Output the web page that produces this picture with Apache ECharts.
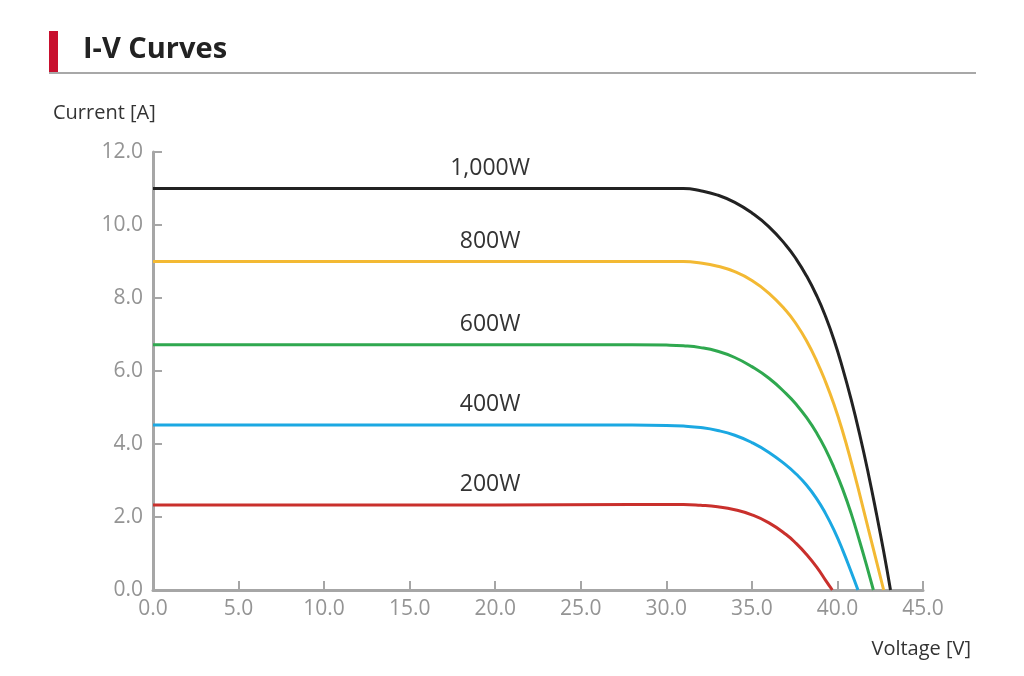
<!DOCTYPE html>
<html>
<head>
<meta charset="utf-8">
<script src="https://cdn.jsdelivr.net/npm/echarts@6/dist/echarts.min.js"></script>
<style>
  html, body { margin: 0; padding: 0; background: #fff; }
  #chart { width: 1024px; height: 676px; }
</style>
</head>
<body>
<div id="chart"></div>
<script>
// Irradiance labels
const curveNames = ['1,000W', '800W', '600W', '400W', '200W'];

// Voltage [V] / Current [A] points
const v1000 = [0, 10, 20, 28, 31, 32, 33, 34, 35, 36, 37, 37.6, 38.2, 38.8, 39.3, 39.8, 40.3, 40.8, 41.3, 41.8, 42.3, 42.7, 43.1];
const i1000 = [11.0, 11.0, 11.0, 11.0, 11.0, 10.94, 10.82, 10.62, 10.33, 9.95, 9.44, 9.06, 8.6, 8.05, 7.5, 6.85, 6.08, 5.22, 4.26, 3.2, 2.04, 1.06, 0];

const v800 = [0, 10, 20, 28, 31, 32, 33, 34, 35, 36, 37, 37.6, 38.2, 38.8, 39.3, 39.8, 40.3, 40.8, 41.3, 41.8, 42.3, 42.7];
const i800 = [9.0, 9.0, 9.0, 9.0, 9.0, 8.96, 8.87, 8.72, 8.48, 8.13, 7.65, 7.28, 6.82, 6.26, 5.71, 5.08, 4.35, 3.52, 2.62, 1.68, 0.75, 0];

const v600 = [0, 10, 20, 28, 30, 31, 32, 33, 34, 35, 36, 37, 37.6, 38.2, 38.8, 39.3, 39.8, 40.3, 40.8, 41.3, 41.7, 42.1];
const i600 = [6.72, 6.72, 6.72, 6.72, 6.71, 6.69, 6.64, 6.54, 6.37, 6.12, 5.8, 5.38, 5.08, 4.72, 4.29, 3.86, 3.35, 2.77, 2.1, 1.33, 0.68, 0];

const v400 = [0, 10, 20, 28, 30, 31, 32, 33, 34, 35, 36, 37, 37.6, 38.2, 38.8, 39.3, 39.8, 40.3, 40.8, 41.2];
const i400 = [4.52, 4.52, 4.52, 4.52, 4.51, 4.49, 4.45, 4.37, 4.24, 4.04, 3.77, 3.42, 3.17, 2.87, 2.49, 2.1, 1.64, 1.1, 0.5, 0];

const v200 = [0, 10, 20, 28, 31, 32, 33, 34, 35, 36, 37, 37.6, 38.2, 38.8, 39.3, 39.7];
const i200 = [2.33, 2.33, 2.33, 2.34, 2.34, 2.32, 2.28, 2.2, 2.06, 1.84, 1.52, 1.27, 0.97, 0.62, 0.27, 0];

// Label anchor voltage for the irradiance text
const labelV = 19.7;

// Axis ticks
const xTicks = [0, 5, 10, 15, 20, 25, 30, 35, 40, 45];
const yTicks = [0, 2, 4, 6, 8, 10, 12];

const seriesDefs = [
  { name: curveNames[0], v: v1000, i: i1000, color: '#222222' },
  { name: curveNames[1], v: v800, i: i800, color: '#f3b933' },
  { name: curveNames[2], v: v600, i: i600, color: '#2fa84f' },
  { name: curveNames[3], v: v400, i: i400, color: '#1ba8e2' },
  { name: curveNames[4], v: v200, i: i200, color: '#c9302c' }
];

const chart = echarts.init(document.getElementById('chart'), null, { renderer: 'canvas' });

const font = '"Open Sans", "DejaVu Sans", sans-serif';

chart.setOption({
  animation: false,
  backgroundColor: '#ffffff',
  title: [
    {
      text: 'I-V Curves',
      left: 78, top: 30,
      textStyle: { fontFamily: font, fontSize: 29, fontWeight: 'bold', color: '#222' }
    },
    {
      text: 'Current [A]',
      left: 48, top: 98,
      textStyle: { fontFamily: font, fontSize: 20, fontWeight: 'normal', color: '#333' }
    },
    {
      text: 'Voltage [V]',
      right: 48, top: 634,
      textStyle: { fontFamily: font, fontSize: 20, fontWeight: 'normal', color: '#333' }
    }
  ],
  graphic: [
    { type: 'rect', left: 49, top: 31, shape: { width: 9, height: 42 }, style: { fill: '#c8102e' } },
    { type: 'rect', left: 49, top: 72, shape: { width: 927, height: 2 }, style: { fill: '#a8a8a8' } }
  ],
  grid: { left: 153, right: 101, top: 152, bottom: 86, containLabel: false },
  xAxis: {
    type: 'value',
    min: 0, max: 45, interval: 5,
    axisLine: { lineStyle: { color: '#a6a6a6', width: 3 } },
    axisTick: { inside: true, length: 9, lineStyle: { color: '#a6a6a6', width: 2 } },
    splitLine: { show: false },
    axisLabel: {
      margin: 9, color: '#949494', fontSize: 21, fontFamily: font,
      formatter: v => v.toFixed(1)
    }
  },
  yAxis: {
    type: 'value',
    min: 0, max: 12, interval: 2,
    axisLine: { show: true, lineStyle: { color: '#a6a6a6', width: 3 } },
    axisTick: { show: true, inside: true, length: 9, lineStyle: { color: '#a6a6a6', width: 2 } },
    splitLine: { show: false },
    axisLabel: {
      margin: 10, color: '#949494', fontSize: 21, fontFamily: font,
      formatter: v => v.toFixed(1)
    }
  },
  series: seriesDefs.map(d => ({
    name: d.name,
    type: 'line',
    data: d.v.map((x, k) => [x, d.i[k]]),
    smooth: 0.5,
    showSymbol: false,
    symbol: 'none',
    lineStyle: { color: d.color, width: 3 },
    z: 3,
    markPoint: {
      symbol: 'circle',
      symbolSize: 0,
      data: [{ coord: [labelV, d.i[0]], value: d.name }],
      label: {
        show: true,
        position: 'top',
        distance: 9,
        formatter: d.name,
        color: '#333',
        fontSize: 23,
        fontFamily: font
      }
    }
  }))
});
</script>
</body>
</html>
